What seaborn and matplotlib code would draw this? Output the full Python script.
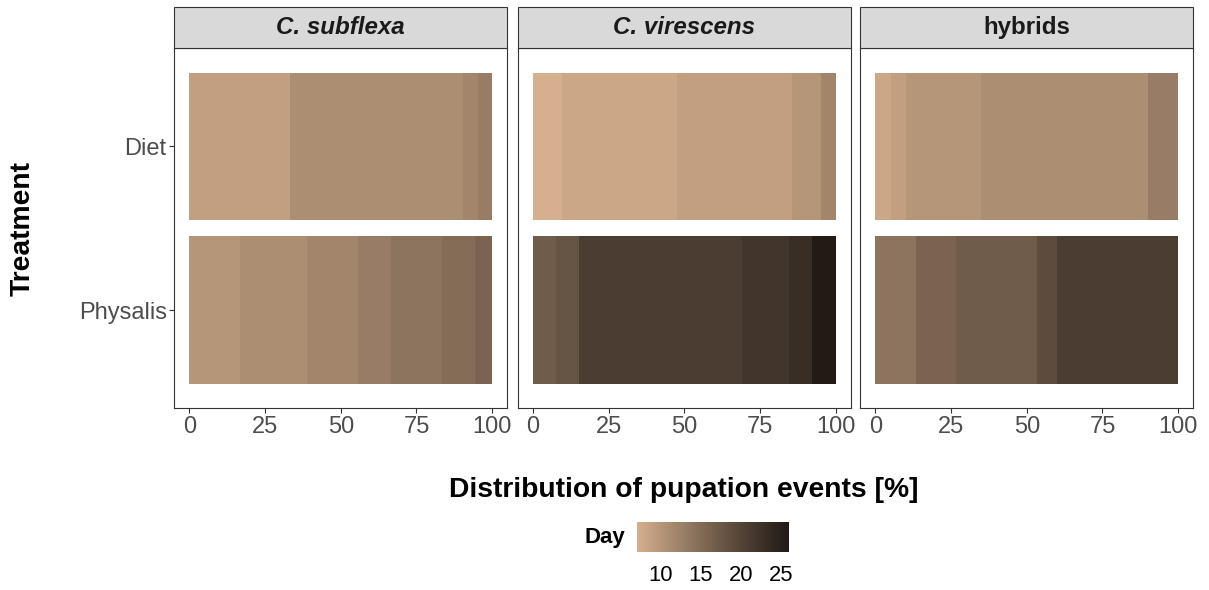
import numpy as np
import pandas as pd
import matplotlib
matplotlib.use("Agg")
import matplotlib.pyplot as plt
from matplotlib.colors import ListedColormap, Normalize
from matplotlib.patches import Rectangle
import seaborn as sns

# ---------------- data ----------------
species = ["C. subflexa", "C. virescens", "hybrids"]
treatments = ["Diet", "Physalis"]

subflexa_diet_days = [9, 11, 12, 13]
subflexa_diet_counts = [7, 12, 1, 1]
subflexa_phys_days = [10, 11, 12, 13, 14, 15, 16]
subflexa_phys_counts = [3, 4, 3, 2, 3, 2, 1]

virescens_diet_days = [7, 8, 9, 10, 12]
virescens_diet_counts = [2, 8, 8, 2, 1]
virescens_phys_days = [17, 18, 21, 22, 23, 26]
virescens_phys_counts = [1, 1, 7, 2, 1, 1]

hybrids_diet_days = [8, 9, 10, 11, 13]
hybrids_diet_counts = [1, 1, 5, 11, 2]
hybrids_phys_days = [14, 16, 17, 19, 21]
hybrids_phys_counts = [2, 2, 4, 1, 6]

x_ticks = [0, 25, 50, 75, 100]
legend_ticks = [10, 15, 20, 25]
low_color = "#D6B08E"
high_color = "#211A15"

groups = [
    ("C. subflexa", "Diet", subflexa_diet_days, subflexa_diet_counts),
    ("C. subflexa", "Physalis", subflexa_phys_days, subflexa_phys_counts),
    ("C. virescens", "Diet", virescens_diet_days, virescens_diet_counts),
    ("C. virescens", "Physalis", virescens_phys_days, virescens_phys_counts),
    ("hybrids", "Diet", hybrids_diet_days, hybrids_diet_counts),
    ("hybrids", "Physalis", hybrids_phys_days, hybrids_phys_counts),
]
rows = []
for sp, tr, days, counts in groups:
    for d, c in zip(days, counts):
        rows.append({"Species": sp, "Treatment": tr, "Day": d, "Count": c})
df = pd.DataFrame(rows)
df["Percent"] = df["Count"] / df.groupby(["Species", "Treatment"])["Count"].transform("sum") * 100

# ---------------- Lab gradient (like ggplot scale_fill_gradient) ----------------
def _hex_rgb(h):
    h = h.lstrip("#")
    return np.array([int(h[i:i + 2], 16) for i in (0, 2, 4)], dtype=float) / 255

M = np.array([[0.4124, 0.3576, 0.1805], [0.2126, 0.7152, 0.0722], [0.0193, 0.1192, 0.9505]])
WHITE = np.array([0.95047, 1.0, 1.08883])

def rgb2lab(c):
    lin = np.where(c <= 0.04045, c / 12.92, ((c + 0.055) / 1.055) ** 2.4)
    xyz = M @ lin / WHITE
    d = 6 / 29
    f = np.where(xyz > d ** 3, np.cbrt(xyz), xyz / (3 * d * d) + 4 / 29)
    return np.array([116 * f[1] - 16, 500 * (f[0] - f[1]), 200 * (f[1] - f[2])])

def lab2rgb(lab):
    L, a, b = lab
    fy = (L + 16) / 116
    fx = fy + a / 500
    fz = fy - b / 200
    d = 6 / 29
    f = np.array([fx, fy, fz])
    xyz = np.where(f > d, f ** 3, 3 * d * d * (f - 4 / 29)) * WHITE
    lin = np.linalg.solve(M, xyz)
    lin = np.clip(lin, 0, 1)
    c = np.where(lin <= 0.0031308, 12.92 * lin, 1.055 * lin ** (1 / 2.4) - 0.055)
    return np.clip(c, 0, 1)

lab_lo, lab_hi = rgb2lab(_hex_rgb(low_color)), rgb2lab(_hex_rgb(high_color))
cmap = ListedColormap([lab2rgb(lab_lo + t * (lab_hi - lab_lo)) for t in np.linspace(0, 1, 256)])
norm = Normalize(vmin=df["Day"].min(), vmax=df["Day"].max())

# ---------------- plot ----------------
sns.set_theme(style="white")
plt.rcParams["font.family"] = ["Liberation Sans", "DejaVu Sans"]

g = sns.FacetGrid(df, col="Species", col_order=species, height=5.9, aspect=0.68, sharex=True, sharey=True)

def draw_stack(data, **kws):
    ax = plt.gca()
    for i, tr in enumerate(treatments):
        sub = data[data["Treatment"] == tr].sort_values("Day")
        left = 0.0
        for _, r in sub.iterrows():
            ax.barh(i, r["Percent"], left=left, height=0.9,
                    color=cmap(norm(r["Day"])), linewidth=0)
            left += r["Percent"]

g.map_dataframe(draw_stack)
fig = g.figure
fig.set_size_inches(12.09, 5.90)
fig.set_dpi(100)

W, H = 1209, 590
lefts = [174.3, 517.7, 860.3]
pw = 333.0
top_px, bot_px = 48.0, 408.3
strip_top = 7.0
edge = "#333333"

for ax, sp, lx in zip(g.axes.flat, species, lefts):
    ax.set_position([lx / W, 1 - bot_px / H, pw / W, (bot_px - top_px) / H])
    ax.set_xlim(-5, 105)
    ax.set_ylim(1.6, -0.6)
    ax.set_xticks(x_ticks)
    ax.set_xticklabels([str(t) for t in x_ticks])
    ax.set_yticks([0, 1])
    ax.set_yticklabels(treatments)
    ax.set_title("")
    ax.set_xlabel("")
    ax.set_ylabel("")
    ax.grid(False)
    for s in ax.spines.values():
        s.set_visible(True)
        s.set_color(edge)
        s.set_linewidth(0.8)
    ax.tick_params(axis="both", which="both", length=3.5, width=0.8, color=edge,
                   labelsize=17, labelcolor="#4D4D4D", pad=2, direction="out",
                   bottom=True, left=True)
    if lx != lefts[0]:
        ax.tick_params(axis="y", left=False, labelleft=False)
    else:
        ax.tick_params(axis="y", labelleft=True)
    ax.tick_params(axis="x", labelbottom=True)
    sh = (top_px - strip_top) / (bot_px - top_px)
    ax.add_patch(Rectangle((0, 1), 1, sh, transform=ax.transAxes, clip_on=False,
                           facecolor="#D9D9D9", edgecolor=edge, linewidth=0.8, zorder=5))
    ax.text(0.5, 1 + sh / 2, sp, transform=ax.transAxes, ha="center", va="center",
            fontsize=17.4, fontweight="bold",
            fontstyle="normal" if sp == "hybrids" else "italic",
            color="#1A1A1A", zorder=6)

fig.text(683.5 / W, 1 - 497 / H, "Distribution of pupation events [%]",
         ha="center", va="baseline", fontsize=20.3, fontweight="bold", color="black")
fig.text(23 / W, 1 - 228.3 / H, "Treatment", rotation=90, ha="center", va="center",
         fontsize=20.3, fontweight="bold", color="black")

# colourbar legend
cax = fig.add_axes([636.6 / W, 1 - 552.3 / H, 152.4 / W, 30 / H])
sm = plt.cm.ScalarMappable(cmap=cmap, norm=norm)
cb = fig.colorbar(sm, cax=cax, orientation="horizontal", ticks=legend_ticks)
cb.outline.set_visible(False)
cax.tick_params(axis="x", direction="in", color="white", length=6, width=0.8,
                labelsize=15.8, labelcolor="black", pad=9, top=True, bottom=True)
cax.set_xticklabels([str(t) for t in legend_ticks])
fig.text(584 / W, 1 - 543.3 / H, "Day", ha="left", va="baseline",
         fontsize=16, fontweight="bold", color="black")

fig.savefig("out.png", dpi=100, facecolor="white")
